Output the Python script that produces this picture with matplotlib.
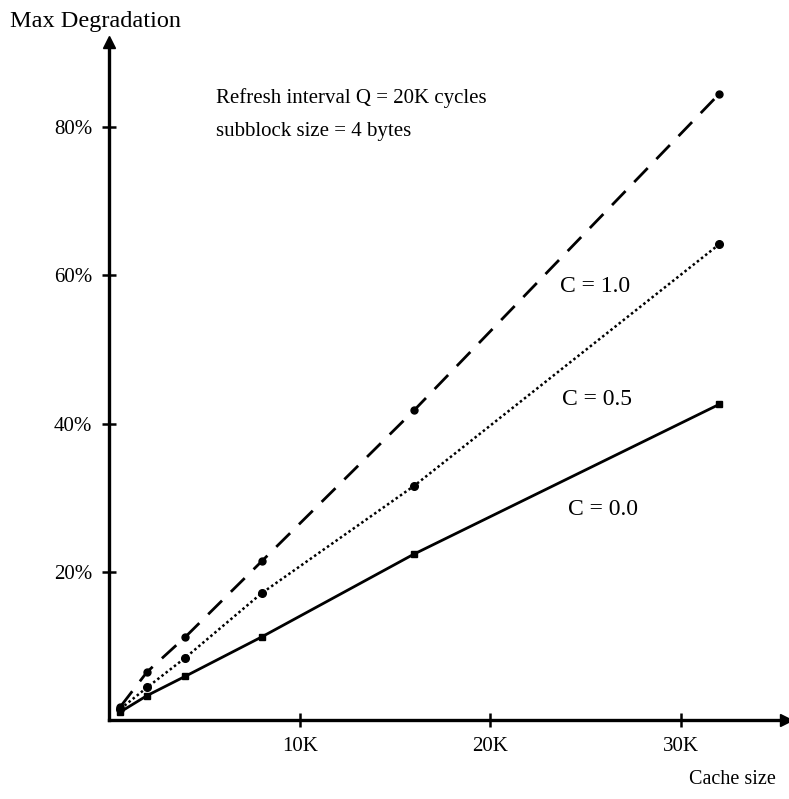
import numpy as np
import matplotlib.pyplot as plt

plt.rcParams['font.family'] = ['Liberation Serif', 'DejaVu Serif']

# cache size in K bytes
cache_size = np.array([0.6, 2, 4, 8, 16, 32])

# max degradation in %
deg_c10 = np.array([1.8, 6.5, 11.2, 21.4, 41.8, 84.5])
deg_c05 = np.array([1.5, 4.4, 8.4, 17.1, 31.6, 64.2])
deg_c00 = np.array([1.1, 3.3, 5.9, 11.2, 22.4, 42.6])

x_ticks = [10, 20, 30]
x_tick_labels = ['10K', '20K', '30K']
y_ticks = [20, 40, 60, 80]
y_tick_labels = ['20%', '40%', '60%', '80%']

fig = plt.figure(figsize=(7.89, 7.99), dpi=100)
ax = fig.add_axes([109/789, 1 - 720/799, (786 - 109)/789, (720 - 42)/799])

ax.plot(cache_size, deg_c10, color='black', lw=2.0, ls=(0, (7, 4.5)),
        marker='o', ms=5, clip_on=False)
ax.plot(cache_size, deg_c05, color='black', lw=1.8, ls=(0, (1, 1.1)),
        marker='o', ms=5.5, clip_on=False)
ax.plot(cache_size, deg_c00, color='black', lw=2.0, ls='-',
        marker='s', ms=4.5, clip_on=False)

ax.set_xlim(0, 35.5)
ax.set_ylim(0, 91.5)

# Hide top and right spines
ax.spines['top'].set_visible(False)
ax.spines['right'].set_visible(False)
ax.spines['left'].set_linewidth(2.4)
ax.spines['bottom'].set_linewidth(2.4)

# arrow heads on the axes
ax.plot(1, 0, '>k', ms=8, transform=ax.transAxes, clip_on=False)
ax.plot(0, 1, '^k', ms=8, transform=ax.transAxes, clip_on=False)

ax.set_xticks(x_ticks)
ax.set_xticklabels(x_tick_labels)
ax.set_yticks(y_ticks)
ax.set_yticklabels(y_tick_labels)
ax.tick_params(axis='both', which='major', direction='inout', length=10,
               width=1.8, labelsize=15)
ax.tick_params(axis='x', pad=7)
ax.tick_params(axis='y', pad=7)

fig.text(10/789, 1 - 22/799, 'Max Degradation', fontsize=17.5, va='center', ha='left')
fig.text(732/789, 1 - 780/799, 'Cache size', fontsize=14.5, va='center', ha='center')

ax.text(5.6, 84.0, 'Refresh interval Q = 20K cycles', fontsize=15, va='center')
ax.text(5.6, 79.4, 'subblock size = 4 bytes', fontsize=15, va='center')

ax.text(25.5, 58.5, 'C = 1.0', fontsize=17, va='center', ha='center')
ax.text(25.6, 43.2, 'C = 0.5', fontsize=17, va='center', ha='center')
ax.text(25.9, 28.4, 'C = 0.0', fontsize=17, va='center', ha='center')

plt.savefig('out.png', dpi=100)
